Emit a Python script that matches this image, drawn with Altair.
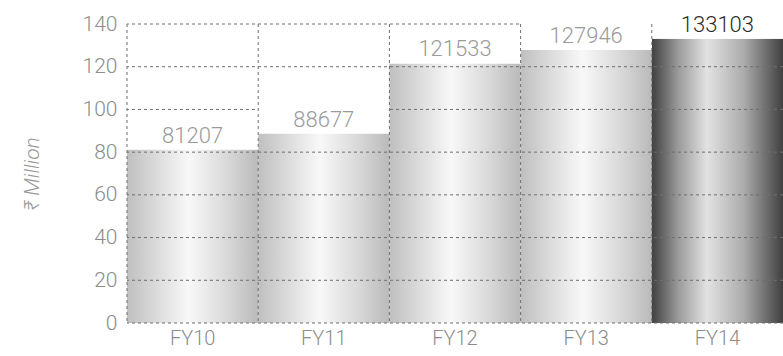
import altair as alt
import pandas as pd

years = ["FY10", "FY11", "FY12", "FY13", "FY14"]
values = [81207, 88677, 121533, 127946, 133103]
label_colors = ["#9a9a9a", "#9a9a9a", "#9a9a9a", "#9a9a9a", "#2b2b2b"]
highlight = [False, False, False, False, True]
y_ticks = [0, 20, 40, 60, 80, 100, 120, 140]

df = pd.DataFrame({"year": years, "value": values, "lc": label_colors, "hl": highlight})
grid_df = pd.DataFrame({"t": y_ticks})

FONT = "Roboto"

light_grad = alt.Gradient(
    gradient="linear", x1=0, x2=1, y1=0, y2=0,
    stops=[alt.GradientStop(color="#bfbfbf", offset=0),
           alt.GradientStop(color="#dedede", offset=0.25),
           alt.GradientStop(color="#f8f8f8", offset=0.47),
           alt.GradientStop(color="#dadada", offset=0.75),
           alt.GradientStop(color="#bababa", offset=1)])
dark_grad = alt.Gradient(
    gradient="linear", x1=0, x2=1, y1=0, y2=0,
    stops=[alt.GradientStop(color="#404040", offset=0),
           alt.GradientStop(color="#9a9a9a", offset=0.2),
           alt.GradientStop(color="#e2e2e2", offset=0.42),
           alt.GradientStop(color="#acacac", offset=0.7),
           alt.GradientStop(color="#404040", offset=1)])

xs = alt.Scale(domain=years, paddingInner=0, paddingOuter=0)
ys = alt.Scale(domain=[0, 140], nice=False, zero=True)

x_enc = alt.X("year:N", sort=years, scale=xs,
              axis=alt.Axis(title=None, labelFontSize=20, labelColor="#8c8c8c", labelFont=FONT,
                            labelFontWeight=300, ticks=False, domain=False, labelAngle=0,
                            labelPadding=5, grid=False))
y_enc = alt.Y("k:Q", scale=ys,
              axis=alt.Axis(values=y_ticks, title="₹ Million", labelFontSize=21, labelColor="#8c8c8c",
                            labelFont=FONT, labelFontWeight=300, ticks=False, domain=False, grid=False,
                            labelPadding=10, titleFont=FONT, titleFontStyle="italic",
                            titleFontWeight=300, titleFontSize=21, titleColor="#9a9a9a",
                            titlePadding=40))

base = alt.Chart(df).transform_calculate(k="datum.value / 1000", top="datum.value / 1000 + 12.5")

bars_light = base.transform_filter("!datum.hl").mark_bar(color=light_grad).encode(x=x_enc, y=y_enc)
bars_dark = base.transform_filter("datum.hl").mark_bar(color=dark_grad).encode(x=x_enc, y=y_enc)

hrules = alt.Chart(grid_df).mark_rule(color="#6e6e6e", strokeDash=[3, 3], strokeWidth=1).encode(
    y=alt.Y("t:Q", scale=ys))

boxes = base.mark_bar(color="white").encode(x=x_enc, y=y_enc, y2="top:Q")

vrules = alt.Chart(df).mark_rule(color="#6e6e6e", strokeDash=[3, 3], strokeWidth=1).encode(
    x=alt.X("year:N", sort=years, scale=xs, bandPosition=0))

labels = base.mark_text(baseline="alphabetic", dy=-7, fontSize=22, font=FONT, fontWeight=300).encode(
    x=x_enc, y=y_enc, text=alt.Text("value:Q", format="d"), color=alt.Color("lc:N", scale=None))

chart = alt.layer(bars_light, bars_dark, hrules, boxes, vrules, labels).properties(
    width=656, height=299,
    autosize=alt.AutoSizeParams(type="none"),
    padding={"left": 127, "top": 24, "right": 0, "bottom": 33},
).configure_view(stroke=None)

chart.save("out.html", embed_options={"renderer": "svg", "actions": False})
